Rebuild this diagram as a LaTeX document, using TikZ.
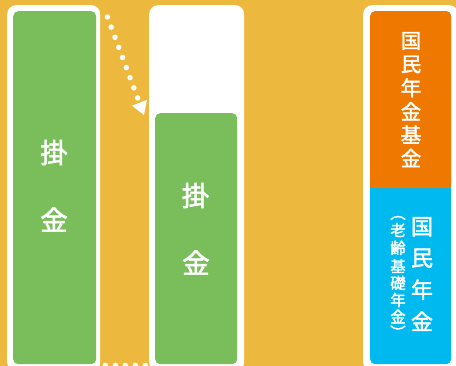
\documentclass[tikz,border=0pt]{standalone}
\usepackage{fontspec}
\newfontfamily\cjk[FakeBold=2]{Noto Sans CJK JP}
\usetikzlibrary{arrows.meta}
\definecolor{bgyellow}{RGB}{236,185,62}
\definecolor{kakegreen}{RGB}{122,190,91}
\definecolor{kikinorange}{RGB}{238,120,0}
\definecolor{kisoblue}{RGB}{0,185,238}

\begin{document}
\begin{tikzpicture}[x=1pt, y=-1pt,
  panel/.style={fill=white, rounded corners=9pt, anchor=north west, inner sep=0pt, minimum height=366pt},
  bar/.style={fill=#1, rounded corners=5pt, anchor=north west, inner sep=0pt},
  ch/.style={font=\cjk\fontsize{#1}{#1}\selectfont, text=white, inner sep=0pt},
  dots/.style={white, line width=5.5pt, line cap=round, dash pattern=on 0pt off #1}]

  \useasboundingbox (0,0) rectangle (456,366);
  \clip (0,0) rectangle (456,366);
  \fill[bgyellow] (0,0) rectangle (456,366);

  %% white panels
  \node[panel, minimum width=93pt] (leftpanel) at (7,5) {};
  \node[panel, minimum width=95pt] (midpanel) at (149,5) {};
  \node[panel, minimum width=95pt] (rightpanel) at (363,5) {};

  %% bars
  \node[bar=kakegreen, minimum width=83pt, minimum height=353pt] (leftbar) at (13,11) {};
  \node[bar=kakegreen, minimum width=82pt, minimum height=251pt] (midbar) at (155,113) {};
  \node[bar=kisoblue, minimum width=81pt, minimum height=353pt] (kisobar) at (370,11) {};
  \node[bar=kikinorange, minimum width=81pt, minimum height=177pt] (kikinbar) at (370,11) {};
  \fill[kikinorange] ([yshift=8pt]kikinbar.south west) rectangle (kikinbar.south east);

  %% labels
  \node[ch=27.5] (leftkake) at (54,152.5) {掛};
  \node[ch=27.5] (leftkin) at (54,219.5) {金};
  \node[ch=27.5] (midkake) at (195.5,195.5) {掛};
  \node[ch=27.5] (midkin) at (196,262.5) {金};

  \foreach \c [count=\i] in {国,民,年,金,基,金}
    \node[ch=20.5] (kikin\i) at (411, 41+23.4*\i-23.4) {\c};
  \foreach \c [count=\i] in {国,民,年,金}
    \node[ch=22] (kiso\i) at (422, 226.7+31.5*\i-31.5) {\c};
  \foreach \y/\c [count=\i] in {218/︵, 230/老, 247.8/齢, 266/基, 283/礎, 300/年, 316.5/金, 332/︶}
    \node[ch=15.5] (rei\i) at (398,\y) {\c};

  %% dotted connectors
  \draw[dots=10.8pt, -{Triangle[width=16pt, length=13pt, line width=0pt]}]
    ([xshift=7pt, yshift=-12pt]leftpanel.north east) -- ([xshift=-11pt, yshift=-2pt]midbar.north west);
  \draw[dots=10pt] ([xshift=5pt, yshift=6pt]leftpanel.south east) -- ([xshift=-3.5pt, yshift=6pt]midpanel.south west);
\end{tikzpicture}
\end{document}
